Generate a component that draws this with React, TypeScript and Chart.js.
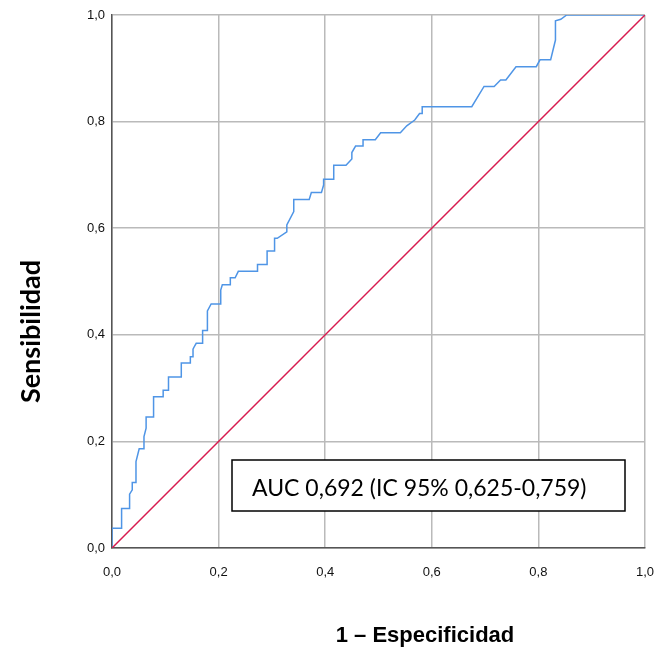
import React, { useEffect, useRef } from "react";
import { Chart, registerables } from "chart.js";

Chart.register(...registerables);

// ROC curve: 1 - specificity (x) and sensitivity (y)
const fpr = [
  0, 0, 0.018, 0.018, 0.033, 0.033, 0.038, 0.038, 0.045, 0.045, 0.051, 0.06, 0.06, 0.064, 0.064,
  0.078, 0.078, 0.096, 0.096, 0.106, 0.106, 0.13, 0.13, 0.147, 0.147, 0.152, 0.152, 0.155, 0.158,
  0.17, 0.17, 0.179, 0.179, 0.186, 0.204, 0.204, 0.207, 0.222, 0.222, 0.231, 0.237, 0.273, 0.273,
  0.291, 0.291, 0.305, 0.305, 0.31, 0.328, 0.328, 0.341, 0.341, 0.37, 0.374, 0.393, 0.397, 0.397,
  0.416, 0.416, 0.439, 0.45, 0.45, 0.457, 0.471, 0.471, 0.494, 0.504, 0.541, 0.553, 0.568, 0.577,
  0.582, 0.582, 0.675, 0.698, 0.717, 0.729, 0.739, 0.758, 0.796, 0.803, 0.823, 0.832, 0.832, 0.842,
  0.853, 1,
];
const tpr = [
  0, 0.037, 0.037, 0.074, 0.074, 0.101, 0.109, 0.123, 0.123, 0.162, 0.186, 0.186, 0.209, 0.225, 0.246,
  0.246, 0.284, 0.284, 0.296, 0.296, 0.321, 0.321, 0.347, 0.347, 0.359, 0.359, 0.373, 0.379, 0.384,
  0.384, 0.408, 0.408, 0.445, 0.458, 0.458, 0.484, 0.494, 0.494, 0.507, 0.507, 0.519, 0.519, 0.532,
  0.532, 0.557, 0.557, 0.581, 0.581, 0.593, 0.606, 0.631, 0.654, 0.654, 0.667, 0.667, 0.681, 0.692,
  0.692, 0.718, 0.718, 0.73, 0.742, 0.754, 0.754, 0.766, 0.766, 0.779, 0.779, 0.792, 0.803, 0.815,
  0.815, 0.828, 0.828, 0.866, 0.866, 0.878, 0.878, 0.903, 0.903, 0.916, 0.916, 0.953, 0.989, 0.992,
  1, 1,
];
const refX = [0, 1];
const refY = [0, 1];

const tickValues = [0, 0.2, 0.4, 0.6, 0.8, 1];
const xTitle = "1 – Especificidad";
const yTitle = "Sensibilidad";
const aucText = "AUC 0,692 (IC 95% 0,625-0,759)";
// annotation box corners in data units
const boxX = [0.2256, 0.962];
const boxY = [0.165, 0.07];

const fmt = (v: number) => v.toFixed(1).replace(".", ",");

const overlay = {
  id: "overlay",
  afterDatasetsDraw(chart: any) {
    const ctx = chart.ctx;
    const xs = chart.scales.x;
    const ys = chart.scales.y;
    const x0 = Math.round(xs.getPixelForValue(boxX[0]));
    const x1 = Math.round(xs.getPixelForValue(boxX[1]));
    const y0 = Math.round(ys.getPixelForValue(boxY[0]));
    const y1 = Math.round(ys.getPixelForValue(boxY[1]));
    ctx.save();
    ctx.fillStyle = "#ffffff";
    ctx.fillRect(x0, y0, x1 - x0, y1 - y0);
    ctx.strokeStyle = "#000000";
    ctx.lineWidth = 1.5;
    ctx.strokeRect(x0, y0, x1 - x0, y1 - y0);
    ctx.fillStyle = "#000000";
    ctx.font = "23px Lato, 'Open Sans', sans-serif";
    ctx.textAlign = "left";
    ctx.textBaseline = "alphabetic";
    ctx.fillText(aucText, x0 + 20, y1 - 15);
    ctx.restore();
  },
  afterDraw(chart: any) {
    const ctx = chart.ctx;
    const area = chart.chartArea;
    ctx.save();
    ctx.fillStyle = "#000000";
    ctx.textAlign = "center";
    ctx.textBaseline = "alphabetic";
    ctx.font = "bold 22px 'Liberation Sans', Arial, sans-serif";
    ctx.fillText(xTitle, 425, 642);
    ctx.translate(40, (area.top + area.bottom) / 2 + 50);
    ctx.rotate(-Math.PI / 2);
    ctx.font = "bold 27px Lato, 'Open Sans', sans-serif";
    ctx.fillText(yTitle, 0, 0);
    ctx.restore();
  },
};

export default function App() {
  const ref = useRef<HTMLCanvasElement | null>(null);
  useEffect(() => {
    if (!ref.current) return;
    const curve = fpr.map((x, i) => ({ x, y: tpr[i] }));
    const diag = refX.map((x, i) => ({ x, y: refY[i] }));
    const axisCommon = (isX: boolean) => ({
      type: "linear" as const,
      min: 0,
      max: 1,
      afterBuildTicks: (s: any) => {
        s.ticks = tickValues.map((v) => ({ value: v }));
      },
      afterFit: (s: any) => {
        if (isX) {
          s.height = 105;
          s.paddingLeft = 0;
          s.paddingRight = 0;
        } else {
          s.width = 112;
          s.paddingTop = 0;
          s.paddingBottom = 0;
        }
      },
      grid: { color: "#bababa", lineWidth: 1.5, drawTicks: false },
      border: { color: "#555555", width: 1.5 },
      ticks: {
        color: "#111111",
        padding: isX ? 17 : 7,
        font: { family: "'Liberation Sans', Arial, sans-serif", size: 13 },
        callback: (v: any) => fmt(Number(v)),
        maxRotation: 0,
        autoSkip: false,
      },
    });
    const chart = new Chart(ref.current, {
      type: "scatter",
      data: {
        datasets: [
          {
            data: diag,
            showLine: true,
            borderColor: "#d81b4f",
            borderWidth: 1.5,
            pointRadius: 0,
            tension: 0,
          },
          {
            data: curve,
            showLine: true,
            borderColor: "#4f95e6",
            borderWidth: 1.5,
            pointRadius: 0,
            tension: 0,
          },
        ],
      },
      options: {
        responsive: false,
        animation: false,
        layout: { padding: { top: 15, right: 12, left: 0, bottom: 0 } },
        plugins: { legend: { display: false }, tooltip: { enabled: false } },
        scales: { x: axisCommon(true), y: axisCommon(false) },
      },
      plugins: [overlay],
    });
    return () => chart.destroy();
  }, []);
  return (
    <div style={{ position: "fixed", left: 0, top: 0, width: 657, height: 653, background: "#fff" }}>
      <canvas ref={ref} width={657} height={653} style={{ display: "block" }} />
    </div>
  );
}
